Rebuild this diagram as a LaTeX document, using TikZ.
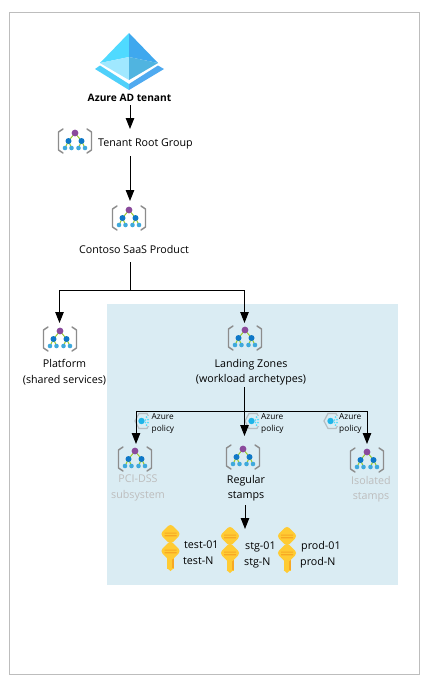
\documentclass[tikz,border=0pt]{standalone}
\usepackage{fontspec}
\setmainfont{Open Sans}
\usetikzlibrary{arrows.meta}
\definecolor{zonebg}{HTML}{DAECF3}
\definecolor{framec}{HTML}{BDBDBD}
\definecolor{bracketc}{HTML}{8C8C8C}
\definecolor{mgpurple}{HTML}{8A4A9C}
\definecolor{mgblue}{HTML}{0F78C8}
\definecolor{mglight}{HTML}{3FA9DC}
\definecolor{mggreen}{HTML}{9CCB2E}
\definecolor{keyc}{HTML}{FFCB33}
\definecolor{keyd}{HTML}{F7A823}
\definecolor{mutedtxt}{HTML}{BDBDBD}
\definecolor{adtl}{HTML}{4FDAFF}
\definecolor{adtr}{HTML}{3FA8EE}
\definecolor{adbl}{HTML}{A0E8FF}
\definecolor{adbr}{HTML}{50B4E0}
\definecolor{adbandl}{HTML}{4FD0FA}
\definecolor{adbandr}{HTML}{4FAAF0}
\definecolor{polhex}{HTML}{B5BDC2}
\definecolor{polcore}{HTML}{1FB5E8}
\definecolor{poldot}{HTML}{55DDFA}
\tikzset{
  arr/.style={draw=black,line width=1pt,-{Triangle[length=11pt,width=8.5pt]}},
  plainline/.style={draw=black,line width=1pt},
  lbl/.style={font=\fontsize{10.7}{15.5}\selectfont,align=center,inner sep=0pt,text=black},
  mutedlbl/.style={lbl,text=mutedtxt},
  boldlbl/.style={lbl,font=\fontsize{10.2}{16}\selectfont\bfseries},
  keylbl/.style={lbl,anchor=west},
  pollbl/.style={font=\fontsize{8.3}{12}\selectfont,inner sep=0pt,anchor=west,align=left,text=black},
  iconbox/.style={inner sep=0pt,minimum width=34pt,minimum height=27pt},
}
\newcommand{\mgicon}[2]{%
  \begin{scope}[shift={(#1,#2)}]
    \draw[bracketc,line width=1.4pt,line join=round,line cap=round] (-12,-12)--(-16.5,-9)--(-16.5,9)--(-12,12);
    \draw[bracketc,line width=1.4pt,line join=round,line cap=round] (12,-12)--(16.5,-9)--(16.5,9)--(12,12);
    \draw[mggreen,line width=1pt] (-6.5,0)--(0,-8)--(6.5,0) (-10,7)--(-6.5,0)--(-3.5,7) (3.5,7)--(6.5,0)--(10,7);
    \fill[mgpurple] (0,-8) circle (3.4);
    \fill[mgblue] (-6.5,0) circle (3) (6.5,0) circle (3);
    \fill[mglight] (-10,7) circle (2.3) (-3.5,7) circle (2.3) (3.5,7) circle (2.3) (10,7) circle (2.3);
  \end{scope}}
\newcommand{\policyicon}[2]{%
  \begin{scope}[shift={(#1,#2)}]
    \draw[polhex,line width=1.2pt,line join=round] (-8,0)--(-4,-7.5)--(4,-7.5)--(8,0)--(4,7.5)--(-4,7.5)--cycle;
    \fill[zonebg] (3,-5) rectangle (9,5);
    \fill[polcore] (-1.5,0) circle (3.2);
    \fill[poldot] (3.5,-4) circle (1) (5,-1.5) circle (1) (5,1.5) circle (1) (3.5,4) circle (1) (2.5,-1) circle (.8) (2.5,1.5) circle (.8);
  \end{scope}}
\newcommand{\keyshape}[2]{%
  \begin{scope}[shift={(#1,#2)}]
    \fill[keyc,rounded corners=3.5pt] (0,-10.5)--(10.5,0)--(0,10.5)--(-10.5,0)--cycle;
    \fill[keyd] (-6,-1.5) rectangle (6,-.4) (-6,1.2) rectangle (6,2.3);
  \end{scope}}
\newcommand{\keypair}[2]{%
  \fill[keyc] ({#1-3.5},{#2+20}) rectangle ({#1+3.5},{#2+35});
  \fill[keyc] ({#1-3.5},{#2+34}) -- ({#1+3.5},{#2+34}) -- ({#1},{#2+37}) -- cycle;
  \fill[keyd] ({#1+1.6},{#2+24}) rectangle ({#1+3.5},{#2+34});
  \keyshape{#1}{#2}
  \keyshape{#1}{#2+17}}
\begin{document}
\begin{tikzpicture}[x=1pt,y=-1pt]
\useasboundingbox (0,0) rectangle (432,683);
\fill[white] (0,0) rectangle (432,683);
\draw[framec,line width=.8pt] (9.5,12.5) rectangle (419.5,674.5);
\fill[zonebg] (107,304) rectangle (398,585);

% Azure AD logo
\fill[adtl] (129,33)--(100,63)--(129,57)--cycle;
\fill[adtr] (129,33)--(158,63)--(129,57)--cycle;
\fill[adbl] (100,63)--(129,57)--(129,80)--cycle;
\fill[adbr] (158,63)--(129,57)--(129,80)--cycle;
\fill[adbandl] (95,69)--(100,65.5)--(129,84)--(129,90)--cycle;
\fill[adbandr] (164,69)--(158,65.5)--(129,84)--(129,90)--cycle;
\node[iconbox,minimum width=70pt,minimum height=58pt] (aad) at (129,61) {};
\node[boldlbl] (aadl) at (129.5,98) {Azure AD tenant};

% management-group icons
\mgicon{75}{141}
\node[iconbox] (root) at (75,141) {};
\node[lbl,anchor=west] (rootl) at (98,143.5) {Tenant Root Group};
\mgicon{129}{218}
\node[iconbox] (cont) at (129,218) {};
\node[lbl] (contl) at (134,249) {Contoso SaaS Product};
\mgicon{60}{339}
\node[iconbox] (plat) at (60,339) {};
\node[lbl] (platl) at (64.5,372) {Platform\\(shared services)};
\mgicon{245}{338}
\node[iconbox] (land) at (245,338) {};
\node[lbl] (landl) at (251,372) {Landing Zones\\(workload archetypes)};
\mgicon{135}{459}
\node[iconbox] (pci) at (135,459) {};
\node[mutedlbl] (pcil) at (138,488) {PCI-DSS\\subsystem};
\mgicon{243}{457}
\node[iconbox] (reg) at (243,457) {};
\node[lbl] (regl) at (246,488) {Regular\\stamps};
\mgicon{367}{460}
\node[iconbox] (iso) at (367,460) {};
\node[mutedlbl] (isol) at (371,489) {Isolated\\stamps};

% policy badges
\policyicon{143}{421}
\node[pollbl] (p1) at (151.5,424) {Azure\\policy};
\policyicon{253}{421}
\node[pollbl] (p2) at (261,424) {Azure\\policy};
\policyicon{332}{421}
\node[pollbl] (p3) at (339,424) {Azure\\policy};

% keys
\keypair{170.5}{534}
\keypair{230}{536}
\keypair{287}{536}
\node[keylbl] (k1a) at (184,544.5) {test-01};
\node[keylbl] (k1b) at (183,560.5) {test-N};
\node[keylbl] (k2a) at (245,546.5) {stg-01};
\node[keylbl] (k2b) at (244,562.5) {stg-N};
\node[keylbl] (k3a) at (301,546.5) {prod-01};
\node[keylbl] (k3b) at (300,562.5) {prod-N};

% connector way-points
\coordinate (c1a) at (130,105); \coordinate (c1b) at (130,129);
\coordinate (c2a) at (130,156); \coordinate (c2b) at (130,201);
\coordinate (c3a) at (130,262); \coordinate (j1) at (130,290.5);
\coordinate (j1l) at (59.5,290.5);  \coordinate (j1r) at (244.5,290.5);
\coordinate (c4b) at (59.5,323);  \coordinate (c5b) at (244.5,323);
\coordinate (c6a) at (244.5,387); \coordinate (j2) at (244.5,411);
\coordinate (j2l) at (136,411); \coordinate (j2r) at (367,411);
\coordinate (c7b) at (136,444); \coordinate (c8b) at (244.5,436);
\coordinate (c9b) at (367,444);
\coordinate (c10a) at (245,505); \coordinate (c10b) at (245,529);

\draw[arr] (c1a)--(c1b);
\draw[arr] (c2a)--(c2b);
\draw[plainline] (c3a)--(j1);
\draw[arr] (j1)--(j1l)--(c4b);
\draw[arr] (j1)--(j1r)--(c5b);
\draw[arr] (c6a)--(c8b);
\draw[arr] (j2)--(j2l)--(c7b);
\draw[arr] (j2)--(j2r)--(c9b);
\draw[arr] (c10a)--(c10b);
\end{tikzpicture}
\end{document}
